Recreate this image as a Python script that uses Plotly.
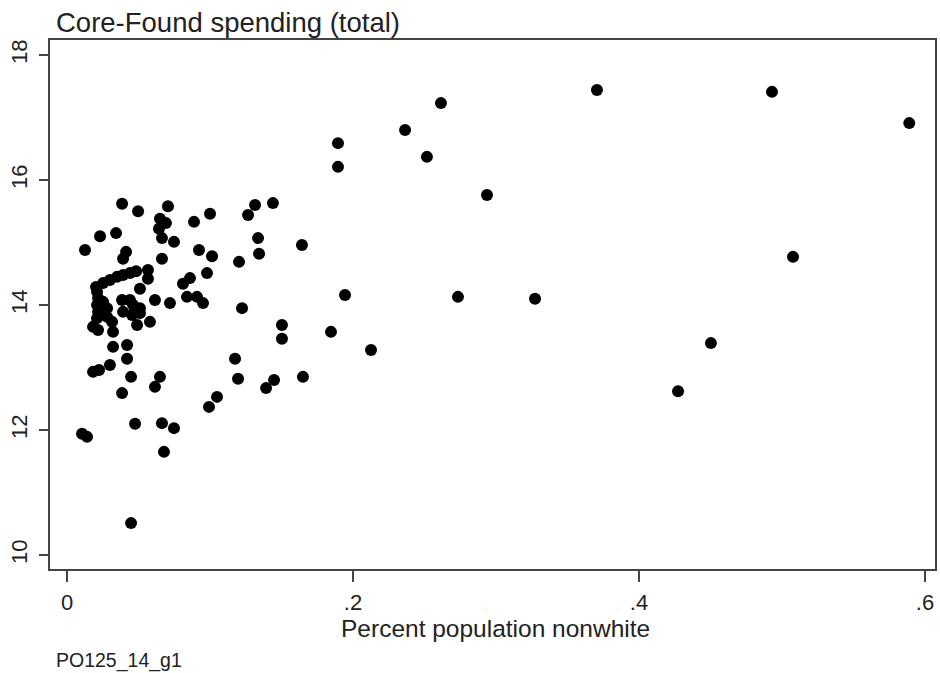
import plotly.graph_objects as go

# Percent population nonwhite (x) and Core-Found spending total (y)
pct_nonwhite = [
    0.0385, 0.0497, 0.0706, 0.0650, 0.0692, 0.0643, 0.0664, 0.0748, 0.0888, 0.1000,
    0.0231, 0.0343, 0.0126, 0.0413, 0.0392, 0.0664, 0.0923, 0.1014, 0.0979, 0.0860,
    0.0811, 0.0566, 0.0566, 0.0510, 0.0203, 0.0252, 0.0300, 0.0350, 0.0392, 0.0440,
    0.0483, 0.0615, 0.0720, 0.0839, 0.0909, 0.0951,
    0.1315, 0.1440, 0.1266, 0.1336, 0.1343, 0.1203, 0.1224, 0.1503, 0.1503, 0.1175,
    0.1196, 0.1448, 0.1392, 0.1049, 0.0993,
    0.0322, 0.0420, 0.0420, 0.0300, 0.0224, 0.0182, 0.0448, 0.0385, 0.0650, 0.0615,
    0.0476, 0.0664, 0.0748, 0.0678, 0.0105, 0.0140, 0.0448,
    0.0210, 0.0217, 0.0210, 0.0217, 0.0210, 0.0182, 0.0252, 0.0280, 0.0280, 0.0315,
    0.0322, 0.0385, 0.0440, 0.0462, 0.0510, 0.0392, 0.0455, 0.0510, 0.0490, 0.0580,
    0.0217,
    0.3706, 0.4930, 0.5890, 0.2615, 0.2364, 0.1895, 0.1895, 0.2517, 0.2937, 0.5077,
    0.1944, 0.2734, 0.3273, 0.4503, 0.4273, 0.1846, 0.2126, 0.1650, 0.1643,
]
spending = [
    15.62, 15.50, 15.58, 15.38, 15.31, 15.22, 15.07, 15.01, 15.33, 15.46,
    15.10, 15.15, 14.88, 14.85, 14.74, 14.74, 14.88, 14.78, 14.51, 14.43,
    14.34, 14.56, 14.42, 14.26, 14.29, 14.35, 14.40, 14.45, 14.48, 14.51,
    14.54, 14.08, 14.03, 14.13, 14.13, 14.03,
    15.60, 15.63, 15.44, 15.07, 14.82, 14.69, 13.95, 13.68, 13.46, 13.14,
    12.82, 12.80, 12.67, 12.53, 12.37,
    13.33, 13.36, 13.14, 13.04, 12.96, 12.93, 12.85, 12.59, 12.85, 12.69,
    12.10, 12.11, 12.03, 11.65, 11.94, 11.89, 10.51,
    14.21, 14.11, 14.00, 13.89, 13.79, 13.65, 14.05, 13.95, 13.81, 13.73,
    13.57, 14.08, 14.08, 14.00, 13.95, 13.89, 13.84, 13.87, 13.68, 13.73,
    13.60,
    17.44, 17.41, 16.91, 17.23, 16.80, 16.59, 16.21, 16.37, 15.76, 14.77,
    14.16, 14.13, 14.10, 13.39, 12.62, 13.57, 13.28, 12.85, 14.96,
]

x_tick_vals = [0, 0.2, 0.4, 0.6]
x_tick_text = ["0", ".2", ".4", ".6"]
y_tick_vals = [10, 12, 14, 16, 18]
y_tick_text = ["10", "12", "14", "16", "18"]

FONT = "Liberation Sans, Arial, sans-serif"
TXT = "#222222"

fig = go.Figure(
    go.Scatter(
        x=pct_nonwhite,
        y=spending,
        mode="markers",
        marker=dict(color="black", size=12, line=dict(width=0)),
        hoverinfo="x+y",
    )
)

fig.update_layout(
    width=940,
    height=673,
    margin=dict(l=50, r=5, t=40, b=104),
    paper_bgcolor="white",
    plot_bgcolor="white",
    showlegend=False,
    font=dict(family=FONT, color=TXT),
    annotations=[
        dict(text="Core-Found spending (total)", xref="paper", yref="paper",
             x=0.004, y=1.0, yshift=0, xanchor="left", yanchor="bottom",
             showarrow=False, font=dict(size=27.5, family=FONT, color=TXT)),
        dict(text="Percent population nonwhite", xref="paper", yref="paper",
             x=0.503, y=0, yshift=-59, xanchor="center", yanchor="middle",
             showarrow=False, font=dict(size=24.5, family=FONT, color=TXT)),
        dict(text="PO125_14_g1", xref="paper", yref="paper",
             x=0.004, y=0, yshift=-91, xanchor="left", yanchor="middle",
             showarrow=False, font=dict(size=19.5, family=FONT, color=TXT)),
    ],
)

fig.update_xaxes(
    range=[-0.0119, 0.607],
    tickvals=x_tick_vals,
    ticktext=x_tick_text,
    ticks="outside",
    ticklen=11,
    tickwidth=2,
    tickcolor="#444444",
    ticklabelstandoff=2,
    tickfont=dict(size=22, family=FONT, color=TXT),
    showline=True,
    linecolor="#444444",
    linewidth=2,
    mirror=True,
    showgrid=False,
    zeroline=False,
    automargin=False,
)

fig.update_yaxes(
    range=[9.776, 18.24],
    tickvals=y_tick_vals,
    ticktext=y_tick_text,
    tickangle=-90,
    ticks="outside",
    ticklen=9,
    tickwidth=2,
    tickcolor="#444444",
    ticklabelstandoff=3,
    tickfont=dict(size=22, family=FONT, color=TXT),
    showline=True,
    linecolor="#444444",
    linewidth=2,
    mirror=True,
    showgrid=False,
    zeroline=False,
    automargin=False,
)

fig.write_html(
    "out.html",
    config={"displayModeBar": False},
    post_script="document.body.style.margin='0';document.body.style.padding='0';",
)
